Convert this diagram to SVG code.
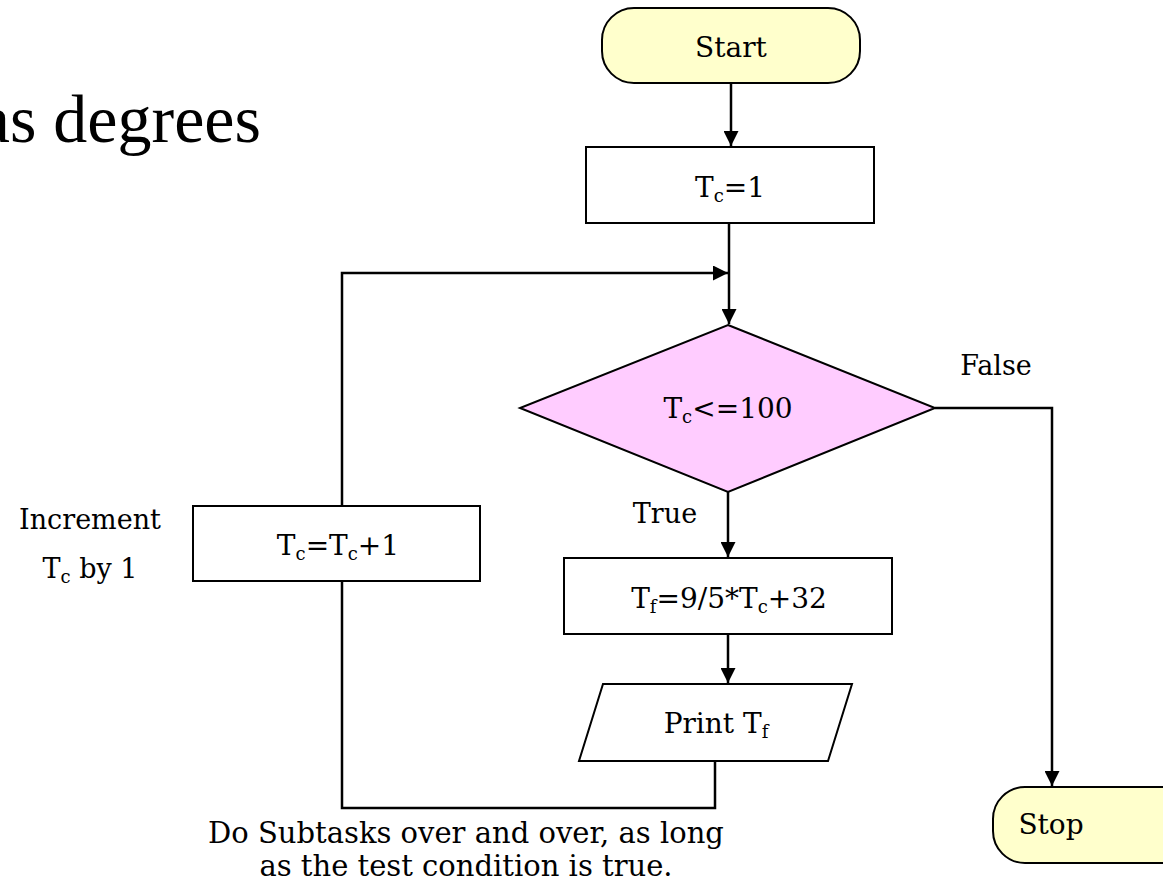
<svg xmlns="http://www.w3.org/2000/svg" width="1163" height="886" viewBox="0 0 1163 886">
  <style>
    text { font-family: "DejaVu Serif", "Liberation Serif", serif; fill: #000; }
    .node { font-size: 28px; text-anchor: middle; }
    .lbl { font-size: 27px; }
    .note { font-size: 29px; text-anchor: middle; }
    .sub { font-size: 18px; }
    .box { fill: #fff; stroke: #000; stroke-width: 2; }
    .term { fill: #ffffcc; stroke: #000; stroke-width: 2; }
    .dec { fill: #ffccff; stroke: #000; stroke-width: 2; }
    .wire { fill: none; stroke: #000; stroke-width: 2.5; }
  </style>
  <defs>
    <marker id="arrow" viewBox="0 0 10 10" refX="10" refY="5" markerWidth="6.4" markerHeight="6" markerUnits="strokeWidth" orient="auto">
      <path d="M0,0 L10,5 L0,10 z" fill="#000"/>
    </marker>
  </defs>
  <rect width="1163" height="886" fill="#fff"/>

  <!-- heading, running off the left edge -->
  <text x="261" y="142" style="font-family:'Liberation Serif',serif;font-size:68px;text-anchor:end">as degrees</text>

  <!-- connectors -->
  <g id="connectors">
    <path class="wire" d="M731,83 V146" marker-end="url(#arrow)"/>
    <path class="wire" d="M729,223 V324" marker-end="url(#arrow)"/>
    <path class="wire" d="M342,506 V273 H728" marker-end="url(#arrow)"/>
    <path class="wire" d="M728,492 V557" marker-end="url(#arrow)"/>
    <path class="wire" d="M728,634 V683" marker-end="url(#arrow)"/>
    <path class="wire" d="M715,761 V808 H342 V581"/>
    <path class="wire" d="M935,408 H1052 V786" marker-end="url(#arrow)"/>
  </g>

  <g id="start">
    <rect class="term" x="602" y="8" width="258" height="75" rx="32"/>
    <text class="node" x="731" y="57">Start</text>
  </g>

  <g id="init">
    <rect class="box" x="586" y="147" width="288" height="76"/>
    <text class="node" x="730" y="197">T<tspan class="sub" dy="5">c</tspan><tspan dy="-5">=1</tspan></text>
  </g>

  <g id="test">
    <polygon class="dec" points="728,325 935,408 728,492 520,408"/>
    <text class="node" x="728" y="418">T<tspan class="sub" dy="5">c</tspan><tspan dy="-5">&lt;=100</tspan></text>
  </g>

  <g id="label-false">
    <text class="lbl" x="996" y="375" text-anchor="middle">False</text>
  </g>

  <g id="label-true">
    <text class="lbl" x="665" y="523" text-anchor="middle">True</text>
  </g>

  <g id="convert">
    <rect class="box" x="564" y="558" width="328" height="76"/>
    <text class="node" x="729" y="608">T<tspan class="sub" dy="5">f</tspan><tspan dy="-5">=9/5*T</tspan><tspan class="sub" dy="5">c</tspan><tspan dy="-5">+32</tspan></text>
  </g>

  <g id="print">
    <polygon class="box" points="603,684 852,684 828,761 579,761"/>
    <text class="node" x="716" y="733">Print T<tspan class="sub" dy="5">f</tspan></text>
  </g>

  <g id="increment">
    <rect class="box" x="193" y="506" width="287" height="75"/>
    <text class="node" x="338" y="555">T<tspan class="sub" dy="5">c</tspan><tspan dy="-5">=T</tspan><tspan class="sub" dy="5">c</tspan><tspan dy="-5">+1</tspan></text>
  </g>

  <g id="note-increment">
    <text class="lbl" x="90" y="529" text-anchor="middle">Increment</text>
    <text class="lbl" x="90" y="578" text-anchor="middle">T<tspan class="sub" dy="5">c</tspan><tspan dy="-5"> by 1</tspan></text>
  </g>

  <g id="stop">
    <rect class="term" x="993" y="787" width="200" height="76" rx="32"/>
    <text class="node" x="1051" y="834">Stop</text>
  </g>

  <g id="note-loop">
    <text class="note" x="466" y="843">Do Subtasks over and over, as long</text>
    <text class="note" x="466" y="876">as the test condition is true.</text>
  </g>
</svg>
